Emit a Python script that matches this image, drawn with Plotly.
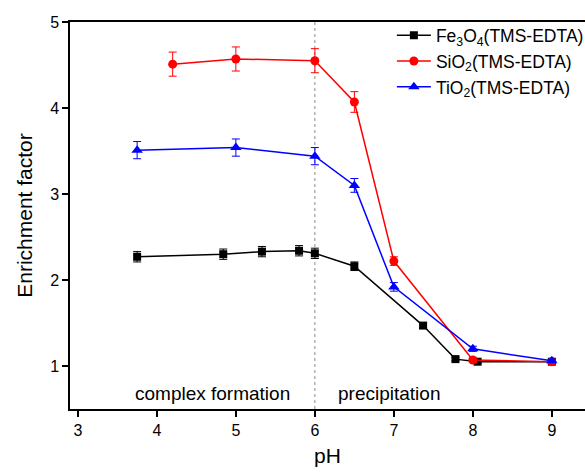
import plotly.graph_objects as go

# Data
fe_x = [3.75, 4.84, 5.33, 5.80, 6.00, 6.50, 7.37, 7.78, 8.06, 9.00]
fe_y = [2.27, 2.30, 2.33, 2.34, 2.31, 2.16, 1.47, 1.08, 1.05, 1.05]
fe_err = [0.06, 0.06, 0.06, 0.06, 0.06, 0.05, 0.03, 0.02, 0.02, 0.02]

si_x = [4.20, 5.00, 6.00, 6.50, 7.00, 8.00, 9.00]
si_y = [4.51, 4.57, 4.55, 4.07, 2.22, 1.07, 1.05]
si_err = [0.14, 0.14, 0.14, 0.12, 0.05, 0.03, 0.02]

ti_x = [3.75, 5.00, 6.00, 6.50, 7.00, 8.00, 9.00]
ti_y = [3.51, 3.54, 3.44, 3.10, 1.92, 1.20, 1.06]
ti_err = [0.10, 0.10, 0.10, 0.08, 0.05, 0.03, 0.02]

names = ["Fe<sub>3</sub>O<sub>4</sub>(TMS-EDTA)",
         "SiO<sub>2</sub>(TMS-EDTA)",
         "TiO<sub>2</sub>(TMS-EDTA)"]
colors = ["#000000", "#ff0000", "#0000ff"]
symbols = ["square", "circle", "triangle-up"]
sizes = [8, 9, 10]

x_ticks = [3, 4, 5, 6, 7, 8, 9]
y_ticks = [1, 2, 3, 4, 5]

FONT = "Liberation Sans, Arial, sans-serif"

fig = go.Figure()
for xs, ys, es, nm, c, s, sz in zip([fe_x, si_x, ti_x], [fe_y, si_y, ti_y],
                                    [fe_err, si_err, ti_err], names, colors,
                                    symbols, sizes):
    fig.add_trace(go.Scatter(
        x=xs, y=ys, name=nm, mode="lines+markers",
        line=dict(color=c, width=1.5),
        marker=dict(symbol=s, size=sz, color=c),
        error_y=dict(type="data", array=es, visible=True, color=c,
                     thickness=1, width=4),
    ))

# divider at pH 6
fig.add_shape(type="line", x0=6, x1=6, y0=0.5, y1=5, xref="x", yref="y",
              line=dict(color="#8c8c8c", width=1, dash="dot"), layer="below")

fig.add_annotation(x=4.70, y=0.68, xref="x", yref="y", text="complex formation",
                   showarrow=False, font=dict(family=FONT, size=19, color="#000"),
                   yanchor="middle")
fig.add_annotation(x=6.94, y=0.68, xref="x", yref="y", text="precipitation",
                   showarrow=False, font=dict(family=FONT, size=19, color="#000"),
                   yanchor="middle")

fig.update_layout(
    width=585, height=475,
    margin=dict(l=70, r=0, t=22, b=66, autoexpand=False),
    paper_bgcolor="white", plot_bgcolor="white",
    font=dict(family=FONT, color="#000"),
    showlegend=True,
    legend=dict(x=0.625, y=1.012, xanchor="left", yanchor="top",
                font=dict(family=FONT, size=17.5, color="#000"),
                bgcolor="rgba(0,0,0,0)", borderwidth=0,
                itemwidth=34, tracegroupgap=0),
    xaxis=dict(range=[2.9, 9.42], tickvals=x_ticks, ticks="outside",
               ticklen=6, tickwidth=1.5, tickcolor="#000",
               showline=True, linecolor="#000", linewidth=1.5, mirror=True,
               showgrid=False, zeroline=False,
               tickfont=dict(family=FONT, size=16, color="#000"),
               title=dict(text="pH", font=dict(family=FONT, size=21, color="#000"),
                          standoff=10)),
    yaxis=dict(range=[0.5, 5], tickvals=y_ticks, ticks="outside",
               ticklen=6, tickwidth=1.5, tickcolor="#000",
               showline=True, linecolor="#000", linewidth=1.5, mirror=False,
               showgrid=False, zeroline=False,
               tickfont=dict(family=FONT, size=16, color="#000"),
               title=dict(text="Enrichment factor",
                          font=dict(family=FONT, size=21, color="#000"),
                          standoff=12)),
)

fig.write_html("out.html")
